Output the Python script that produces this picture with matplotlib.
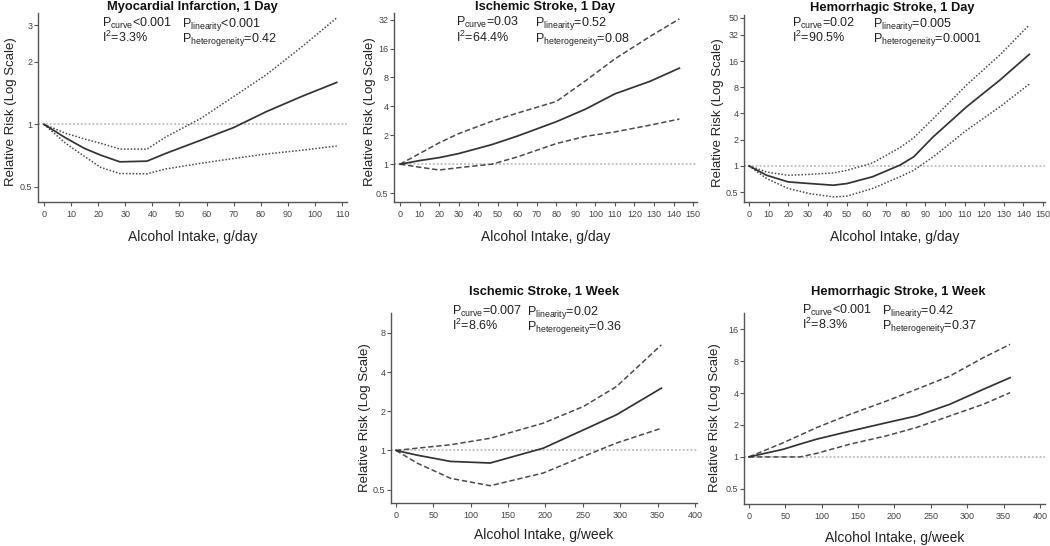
import matplotlib
matplotlib.use("Agg")
import matplotlib.pyplot as plt

plt.rcParams["font.family"] = ["Liberation Sans", "DejaVu Sans"]
plt.rcParams["mathtext.fontset"] = "custom"
plt.rcParams["mathtext.rm"] = "Liberation Sans"
plt.rcParams["mathtext.it"] = "Liberation Sans:italic"
plt.rcParams["mathtext.bf"] = "Liberation Sans:bold"

# Myocardial infarction, 1 day
mi_day_x = [0, 8, 15, 21, 28, 38, 45, 58, 70, 82, 95, 108]
mi_day_rr = [1.0, 0.86, 0.765, 0.71, 0.66, 0.665, 0.725, 0.84, 0.965, 1.15, 1.36, 1.59]
mi_day_hi = [1.0, 0.905, 0.85, 0.81, 0.76, 0.76, 0.87, 1.07, 1.36, 1.73, 2.35, 3.25]
mi_day_lo = [1.0, 0.81, 0.70, 0.62, 0.58, 0.578, 0.61, 0.65, 0.685, 0.72, 0.75, 0.786]

# Ischemic stroke, 1 day
is_day_x = [0, 10, 20, 30, 47, 60, 80, 95, 110, 128, 143]
is_day_rr = [1.0, 1.09, 1.17, 1.29, 1.6, 1.96, 2.77, 3.75, 5.4, 7.3, 10.0]
is_day_hi = [1.0, 1.29, 1.67, 2.08, 2.8, 3.4, 4.5, 7.4, 12.5, 21.4, 32.6]
is_day_lo = [1.0, 0.93, 0.87, 0.92, 1.0, 1.19, 1.64, 1.95, 2.17, 2.55, 2.95]

# Hemorrhagic stroke, 1 day
hs_day_x = [0, 9, 20, 31, 43, 50, 63, 77, 84, 94, 111, 128, 143]
hs_day_rr = [1.0, 0.78, 0.655, 0.627, 0.60, 0.627, 0.75, 1.02, 1.27, 2.16, 4.77, 9.67, 19.1]
hs_day_hi = [1.0, 0.85, 0.78, 0.80, 0.83, 0.89, 1.08, 1.62, 2.1, 3.5, 8.5, 18.8, 41.6]
hs_day_lo = [1.0, 0.715, 0.55, 0.48, 0.44, 0.45, 0.55, 0.75, 0.89, 1.27, 2.57, 4.77, 8.7]

# Ischemic stroke, 1 week
is_wk_x = [0, 28, 73, 126, 197, 251, 295, 355]
is_wk_rr = [1.0, 0.92, 0.823, 0.80, 1.04, 1.44, 1.88, 3.01]
is_wk_hi = [1.0, 1.04, 1.105, 1.24, 1.62, 2.18, 3.1, 6.48]
is_wk_lo = [1.0, 0.8, 0.61, 0.535, 0.67, 0.9, 1.14, 1.48]

# Hemorrhagic stroke, 1 week
hs_wk_x = [0, 47, 70, 93, 139, 189, 230, 276, 322, 359]
hs_wk_rr = [1.0, 1.18, 1.32, 1.47, 1.75, 2.1, 2.43, 3.13, 4.33, 5.58]
hs_wk_hi = [1.0, 1.36, 1.6, 1.89, 2.52, 3.36, 4.33, 5.77, 8.6, 11.5]
hs_wk_lo = [1.0, 1.0, 1.0, 1.08, 1.32, 1.58, 1.89, 2.43, 3.13, 4.03]

W, H = 1050, 546
fig = plt.figure(figsize=(W / 100, H / 100), dpi=100)

DOT = (0, (1, 1.2))
DASH = (0, (3.5, 1.8))


def px_axes(left, top, right, bottom):
    return fig.add_axes([left / W, 1 - bottom / H, (right - left) / W, (bottom - top) / H])


def panel(ax, x, rr, lo, hi, ci_style, xlim, ylim, xticks, yticks, yticklabels, xlabel):
    ax.set_yscale("log")
    ax.axhline(1, color="#c4c4c4", lw=1.4, ls=(0, (1, 1)), zorder=1)
    ax.plot(x, hi, color="#4a4a4a", lw=1.1, ls=ci_style, zorder=2)
    ax.plot(x, lo, color="#4a4a4a", lw=1.1, ls=ci_style, zorder=2)
    ax.plot(x, rr, color="#333333", lw=1.25, zorder=3)
    ax.set_xlim(*xlim)
    ax.set_ylim(*ylim)
    ax.set_xticks(xticks)
    ax.set_yticks(yticks)
    ax.set_yticklabels(yticklabels)
    ax.minorticks_off()
    for s in ["top", "right"]:
        ax.spines[s].set_visible(False)
    for s in ["left", "bottom"]:
        ax.spines[s].set_color("#555555")
        ax.spines[s].set_linewidth(1.0)
    ax.tick_params(axis="both", length=3, width=0.8, color="#555555",
                   labelsize=6.5, labelcolor="#444444")
    ax.tick_params(axis="y", pad=1)
    ax.tick_params(axis="x", pad=3)
    ax.set_xlabel(xlabel, fontsize=10, color="#222222")
    ax.set_ylabel("Relative Risk (Log Scale)", fontsize=9.5, color="#222222")


def stats(cx, tx1, tx2, ty, title, p_curve, p_lin, i2, p_het):
    fig.text(cx / W, 1 - ty[0] / H, title, ha="center", va="baseline",
             fontsize=9.3, fontweight="bold", color="#111111")
    kw = dict(ha="left", va="baseline", fontsize=9, color="#222222")
    fig.text(tx1 / W, 1 - ty[1] / H, r"P$_{\mathregular{curve}}$" + p_curve, **kw)
    fig.text(tx2 / W, 1 - ty[1] / H, r"P$_{\mathregular{linearity}}$" + p_lin, **kw)
    fig.text(tx1 / W, 1 - ty[2] / H, r"I$^{\mathregular{2}}$=" + i2, **kw)
    fig.text(tx2 / W, 1 - ty[2] / H, r"P$_{\mathregular{heterogeneity}}$" + p_het, **kw)


day_ticks = list(range(0, 160, 10))
wk_ticks = list(range(0, 450, 50))

ax1 = px_axes(38, 13, 347, 202)
panel(ax1, mi_day_x, mi_day_rr, mi_day_lo, mi_day_hi, DOT, (-2.2, 111.8), (0.423, 3.43),
      list(range(0, 120, 10)), [0.5, 1, 2, 3], ["0.5", "1", "2", "3"], "Alcohol Intake, g/day")
ax1.xaxis.set_label_coords(0.5, -0.148)
ax1.yaxis.set_label_coords(-0.068, 0.48)
stats(192, 102, 182, (10, 27, 42), "Myocardial Infarction, 1 Day", "<0.001", "<0.001", "3.3%", "=0.42")

ax2 = px_axes(394, 13, 697, 202)
panel(ax2, is_day_x, is_day_rr, is_day_lo, is_day_hi, DASH, (-3.1, 152), (0.404, 37.5),
      day_ticks, [0.5, 1, 2, 4, 8, 16, 32], ["0.5", "1", "2", "4", "8", "16", "32"],
      "Alcohol Intake, g/day")
ax2.xaxis.set_label_coords(0.5, -0.148)
ax2.yaxis.set_label_coords(-0.058, 0.48)
stats(545, 456, 535, (10, 26, 42), "Ischemic Stroke, 1 Day", "=0.03", "=0.52", "64.4%", "=0.08")

ax3 = px_axes(744, 15, 1045, 202)
panel(ax3, hs_day_x, hs_day_rr, hs_day_lo, hs_day_hi, DOT, (-2.55, 151), (0.385, 54),
      day_ticks, [0.5, 1, 2, 4, 8, 16, 32, 50], ["0.5", "1", "2", "4", "8", "16", "32", "50"],
      "Alcohol Intake, g/day")
ax3.xaxis.set_label_coords(0.5, -0.148)
ax3.yaxis.set_label_coords(-0.066, 0.48)
stats(892, 792, 873, (11, 27, 42), "Hemorrhagic Stroke, 1 Day", "=0.02", "=0.005", "90.5%", "=0.0001")

ax4 = px_axes(391, 313, 697, 503)
panel(ax4, is_wk_x, is_wk_rr, is_wk_lo, is_wk_hi, DASH, (-6.7, 402.7), (0.394, 11.4),
      wk_ticks, [0.5, 1, 2, 4, 8], ["0.5", "1", "2", "4", "8"], "Alcohol Intake, g/week")
ax4.xaxis.set_label_coords(0.5, -0.13)
ax4.yaxis.set_label_coords(-0.065, 0.45)
stats(544, 452, 527, (295, 315, 330), "Ischemic Stroke, 1 Week", "=0.007", "=0.02", "8.6%", "=0.36")

ax5 = px_axes(744, 313, 1045, 504)
panel(ax5, hs_wk_x, hs_wk_rr, hs_wk_lo, hs_wk_hi, DASH, (-6.9, 407), (0.36, 22.7),
      wk_ticks, [0.5, 1, 2, 4, 8, 16], ["0.5", "1", "2", "4", "8", "16"], "Alcohol Intake, g/week")
ax5.xaxis.set_label_coords(0.5, -0.14)
ax5.yaxis.set_label_coords(-0.076, 0.45)
stats(898, 802, 882, (295, 314, 329), "Hemorrhagic Stroke, 1 Week", "<0.001", "=0.42", "8.3%", "=0.37")

fig.savefig("out.png", dpi=100, facecolor="white")
